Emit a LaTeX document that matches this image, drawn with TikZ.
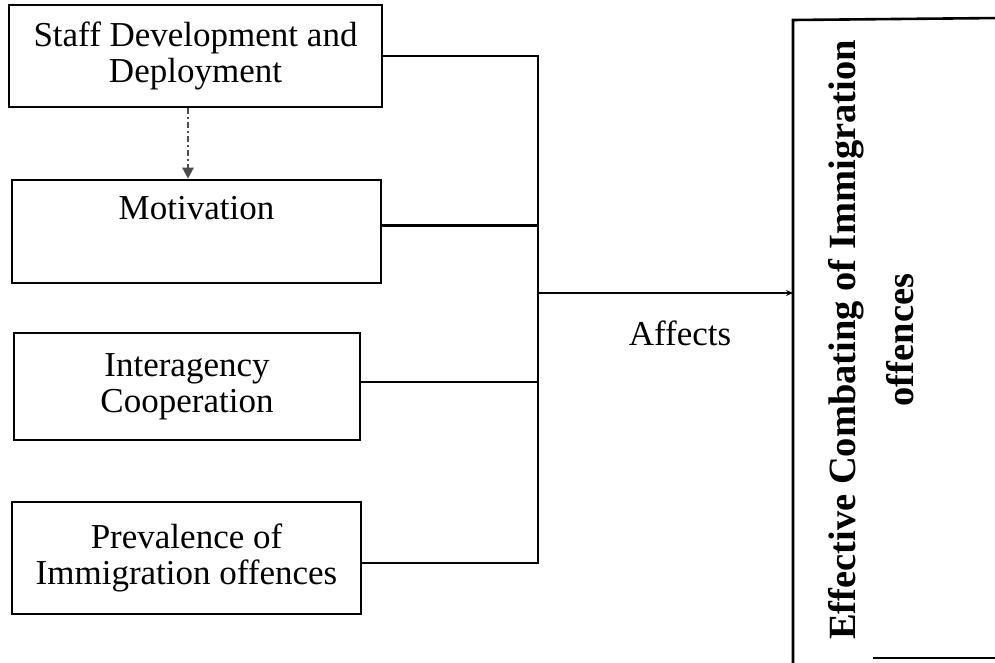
\documentclass[tikz,border=0pt]{standalone}
\usepackage{fontspec}
\setmainfont{Liberation Serif}
\usetikzlibrary{arrows.meta}
\begin{document}
\begin{tikzpicture}[x=1pt,y=-1pt,
  box/.style={draw, line width=2.6pt, align=center, inner sep=0pt,
    font=\fontsize{35}{36}\selectfont},
  conn/.style={line width=2.6pt},
  dashlink/.style={line width=2.2pt, black!70, dash pattern=on 6pt off 3pt on 2pt off 3pt,
    -{Triangle[length=11pt,width=11pt]}}]
\useasboundingbox (0,0) rectangle (995,663);
\node[box, minimum width=373pt, minimum height=102pt] (staff) at (195.5,56) {Staff Development and\\Deployment};
\node[box, minimum width=369pt, minimum height=103pt] (motiv) at (196.5,231.5) {Motivation\\\strut};
\node[box, minimum width=346pt, minimum height=107pt] (inter) at (187,386.5) {Interagency\\Cooperation};
\node[box, minimum width=349pt, minimum height=112pt] (prev) at (186.5,558) {Prevalence of\\Immigration offences};
\coordinate (jmid) at (538,293);
\coordinate (otl) at (793,20);
\coordinate (otr) at (1000,18);
\coordinate (obl) at (793,668);
\coordinate (bbl) at (873,658);
\coordinate (bbr) at (1000,658);
\draw[conn] (staff.east) -- (staff.east -| jmid) |- ([yshift=-5pt]prev.east);
\draw[conn] ([yshift=6pt]motiv.east) -- ([yshift=6pt]motiv.east -| jmid);
\draw[conn] ([yshift=4.5pt]inter.east) -- ([yshift=4.5pt]inter.east -| jmid);
\draw[conn] (otr) -- (otl) -- (obl);
\draw[conn] (bbl) -- (bbr);
\draw[conn, -{Stealth[length=7pt,width=6pt]}] (jmid) -- (jmid -| otl);
\draw[dashlink] ([xshift=-7.5pt]staff.south) -- ([xshift=-8.5pt]motiv.north);
\node[font=\fontsize{35}{36}\selectfont] (aff) at (680,333) {Affects};
\node[rotate=90, align=center, inner sep=0pt, font=\bfseries\fontsize{38.5}{58}\selectfont] (outcome) at (871,340) {Effective Combating of Immigration\\offences};
\end{tikzpicture}
\end{document}
